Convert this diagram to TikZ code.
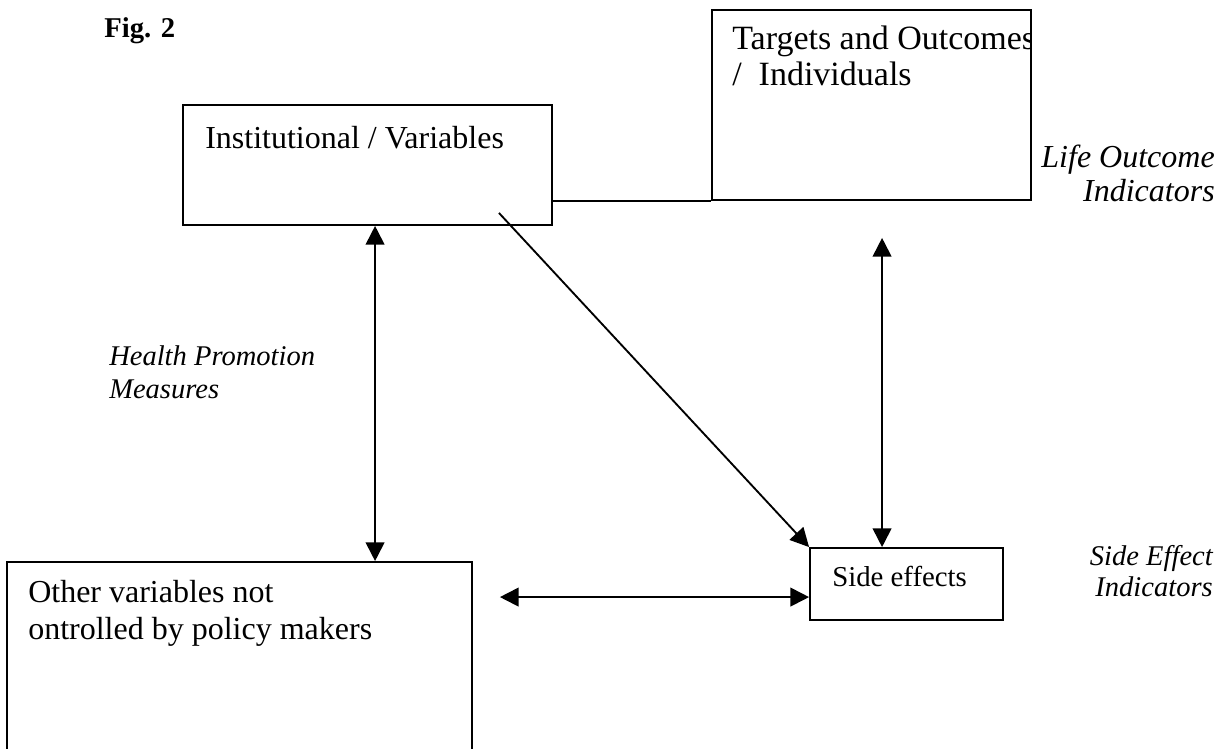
\documentclass[tikz,border=0pt]{standalone}
\usepackage{fontspec}
\setmainfont{Liberation Serif}
\usetikzlibrary{arrows.meta,fit,calc}

\tikzset{
  box/.style={draw, line width=1.4pt, inner sep=0pt, rectangle},
  txt/.style={inner sep=0pt, font=\fontsize{24}{29}\selectfont},
  bigtxt/.style={inner sep=0pt, font=\fontsize{25.5}{30}\selectfont},
  smalltxt/.style={inner sep=0pt, font=\fontsize{21.6}{26}\selectfont},
  lbl/.style={inner sep=0pt, font=\fontsize{24}{29}\selectfont\itshape},
  smalllbl/.style={inner sep=0pt, font=\fontsize{21.4}{26}\selectfont\itshape},
  conn/.style={line width=1.4pt},
  biarrow/.style={conn, {Triangle[length=14pt,width=14pt]}-{Triangle[length=14pt,width=14pt]}},
  onearrow/.style={conn, -{Triangle[length=14pt,width=14pt]}}
}

\begin{document}
\begin{tikzpicture}[x=0.75pt, y=-0.75pt]
  \useasboundingbox (0,0) rectangle (1218,749);
  \clip (0,0) rectangle (1218,749);
  \fill[white] (0,0) rectangle (1218,749);

  % title
  \node[inner sep=0pt, anchor=base west, font=\fontsize{21.5}{26}\selectfont\bfseries] (fig) at (104,38) {Fig. 2};

  % boxes
  \node[box, fit={(183,105) (552,225)}] (inst) {};
  \node[box, fit={(712,10) (1031,200)}] (tgt) {};
  \node[box, fit={(810,548) (1003,620)}] (side) {};
  \node[box, fit={(7,562) (472,800)}] (other) {};

  % box texts
  \node[txt, anchor=base west] (insttxt) at (205,148) {Institutional / Variables};
  \begin{scope}
    \clip (tgt.south west) rectangle (tgt.north east);
    \node[bigtxt, anchor=base west] (tgttxta) at (732,50) {Targets and Outcomes};
  \end{scope}
  \node[bigtxt, anchor=base west] (tgttxtb) at (732,86) {/\ \ Individuals};
  \node[smalltxt, anchor=base west] (sidetxt) at (832,586) {Side effects};
  \node[txt, anchor=base west] (othertxta) at (28,602) {Other variables not};
  \node[txt, anchor=base west] (othertxtb) at (28,639) {ontrolled by policy makers};

  % side labels
  \node[lbl, anchor=base east] (lifea) at (1215,167) {Life Outcome};
  \node[lbl, anchor=base east] (lifeb) at (1215,201) {Indicators};
  \node[smalllbl, anchor=base west] (healtha) at (109,365) {Health Promotion};
  \node[smalllbl, anchor=base west] (healthb) at (109,398) {Measures};
  \node[smalllbl, anchor=base east] (sidea) at (1213,565) {Side Effect};
  \node[smalllbl, anchor=base east] (sideb) at (1213,596) {Indicators};

  % connector end points
  \coordinate (instdown) at ($(inst.south west)+(193,0)$);
  \coordinate (diagstart) at ($(inst.south east)+(-54,-13)$);
  \coordinate (tgtdown) at ($(tgt.south west)+(171,37)$);
  \coordinate (otherright) at ($(other.north east)+(27,36)$);

  % connectors
  \draw[conn] (inst.east |- tgt.south) -- (tgt.south west);
  \draw[biarrow] (instdown) -- (instdown |- other.north);
  \draw[onearrow] (diagstart) -- (side.north west);
  \draw[biarrow] (tgtdown) -- (tgtdown |- side.north);
  \draw[biarrow] (otherright) -- (otherright -| side.west);
\end{tikzpicture}
\end{document}
